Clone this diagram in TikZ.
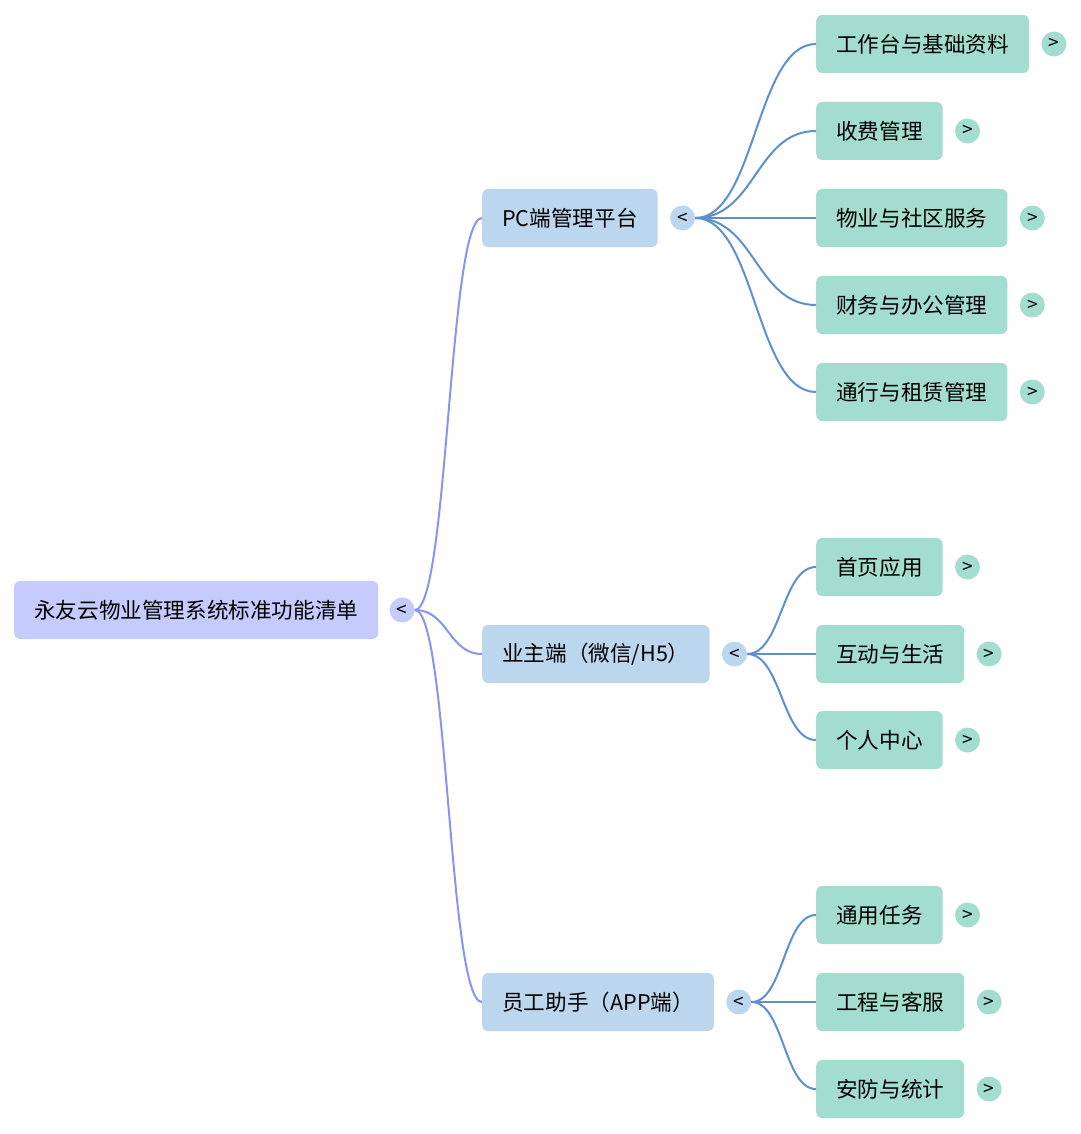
\documentclass[tikz,border=0pt]{standalone}
\usepackage{fontspec}
\newfontfamily\cjk{Noto Sans CJK SC}
\usetikzlibrary{positioning, calc}

\definecolor{rootfill}{HTML}{C5CBFC}
\definecolor{branchfill}{HTML}{BCD6EE}
\definecolor{leaffill}{HTML}{A3DDD0}
\definecolor{rootline}{HTML}{8A92F2}
\definecolor{branchline}{HTML}{5E90D0}

\begin{document}
\begin{tikzpicture}[
  x=1pt, y=-1pt,
  topic/.style={rectangle, rounded corners=6pt, minimum height=58pt, inner xsep=20pt, text=black, anchor=west, font=\cjk\fontsize{21.6}{24}\selectfont},
  roottopic/.style={topic, fill=rootfill},
  branch/.style={topic, fill=branchfill},
  leaf/.style={topic, fill=leaffill},
  fold/.style={circle, minimum size=25pt, inner sep=0pt, text height=12pt, text depth=0pt, text=black, font=\cjk\fontsize{19}{19}\selectfont},
  curve/.style={to path={let \p1=(\tikztostart), \p2=(\tikztotarget) in
    (\p1) .. controls ({(\x1+\x2)/2},\y1) and ({(\x1+\x2)/2},\y2) .. (\p2)}},
  rootlink/.style={draw=rootline, line width=2pt, curve},
  branchlink/.style={draw=branchline, line width=2pt, curve},
]
\useasboundingbox (0,0) rectangle (1080,1134);

% Root topic
\node[roottopic] (root) at (14,610) {永友云物业管理系统标准功能清单};
\node[fold, fill=rootfill, right=11pt of root] (rootfold) {<};

% Main branches
\node[branch] (pc) at (482,218) {PC端管理平台};
\node[branch] (owner) at (482,654) {业主端（微信/H5）};
\node[branch] (staff) at (482,1002) {员工助手（APP端）};
\node[fold, fill=branchfill, right=12pt of pc] (pcfold) {<};
\node[fold, fill=branchfill, right=12pt of owner] (ownerfold) {<};
\node[fold, fill=branchfill, right=12pt of staff] (stafffold) {<};

% PC leaves
\node[leaf] (desk) at (816,44) {工作台与基础资料};
\node[leaf] (fee) at (816,131) {收费管理};
\node[leaf] (service) at (816,218) {物业与社区服务};
\node[leaf] (finance) at (816,305) {财务与办公管理};
\node[leaf] (access) at (816,392) {通行与租赁管理};

% Owner leaves
\node[leaf] (home) at (816,567) {首页应用};
\node[leaf] (life) at (816,654) {互动与生活};
\node[leaf] (mine) at (816,740) {个人中心};

% Staff leaves
\node[leaf] (task) at (816,915) {通用任务};
\node[leaf] (repair) at (816,1002) {工程与客服};
\node[leaf] (security) at (816,1089) {安防与统计};

% Leaf folds
\foreach \t in {desk, fee, service, finance, access, home, life, mine, task, repair, security}
  \node[fold, fill=leaffill, right=12pt of \t] (\t fold) {>};

% Links
\foreach \t in {pc, owner, staff}
  \draw[rootlink] (rootfold.east) to (\t.west);
\foreach \t in {desk, fee, service, finance, access}
  \draw[branchlink] (pcfold.east) to (\t.west);
\foreach \t in {home, life, mine}
  \draw[branchlink] (ownerfold.east) to (\t.west);
\foreach \t in {task, repair, security}
  \draw[branchlink] (stafffold.east) to (\t.west);

\end{tikzpicture}
\end{document}
